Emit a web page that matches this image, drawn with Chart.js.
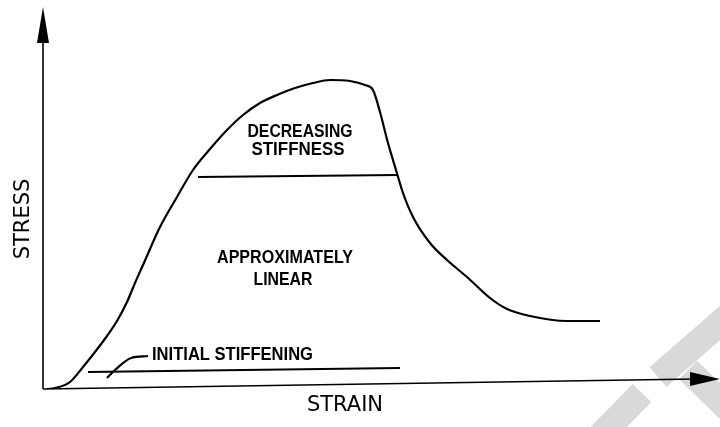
<!DOCTYPE html>
<html>
<head>
<meta charset="utf-8">
<script src="https://cdn.jsdelivr.net/npm/chart.js@4"></script>
<style>
  body { margin: 0; background: #fff; }
  #wrap { width: 720px; height: 427px; position: relative; }
</style>
</head>
<body>
<div id="wrap"><canvas id="stressChart"></canvas></div>
<script>
// schematic stress-strain curve, arbitrary units (no ticks on either axis)
const strain = [4, 12, 27, 40, 52, 64, 74, 84, 92, 100, 117, 134, 150, 167, 184, 200, 217, 234, 252, 270, 287, 307, 322, 330,
  337, 345, 353, 360, 370, 387, 404, 424, 447, 464, 487, 524, 557];
const stress = [0, 1, 7, 22, 37, 53, 68, 87, 106, 124, 162, 192, 219, 240, 259, 274, 286, 294, 301, 306, 309, 308, 304, 299,
  277, 246, 219, 196, 172, 146, 129, 112, 91, 80, 73, 68, 68];

// region boundaries
const initialLineX = [45, 357];
const initialLineY = [17, 21];
const decreasingLineX = [155, 355];
const decreasingLineY = [212, 214];
const leaderX = [64, 72, 88, 105];
const leaderY = [11, 19, 31, 33];

const xMax = 677;
const yMax = 382;

// region labels: text, x, y, width, align
const regionLabels = [
  ["DECREASING", 257, 257, 105, "center"],
  ["STIFFNESS", 255, 239, 93, "center"],
  ["APPROXIMATELY", 242, 131, 136, "center"],
  ["LINEAR", 240, 109, 59, "center"],
  ["INITIAL STIFFENING", 109, 34, 161, "left"],
];
const xTitle = "STRAIN";
const yTitle = "STRESS";

const pts = (xs, ys) => xs.map((x, i) => ({ x: x, y: ys[i] }));

const lineStyle = { showLine: true, pointRadius: 0, borderColor: "#000", fill: false };

const schematic = {
  id: "schematic",
  beforeDatasetsDraw(chart) {
    const ctx = chart.ctx;
    // grey watermark in the corner
    ctx.save();
    ctx.strokeStyle = "#d9d9d9";
    ctx.lineWidth = 26;
    ctx.lineCap = "butt";
    ctx.beginPath(); ctx.moveTo(728, 316); ctx.lineTo(658, 377); ctx.stroke();
    ctx.beginPath(); ctx.moveTo(688, 370); ctx.lineTo(745, 425); ctx.stroke();
    ctx.beginPath(); ctx.moveTo(642, 393); ctx.lineTo(598, 438); ctx.stroke();
    ctx.restore();
  },
  afterDatasetsDraw(chart) {
    const ctx = chart.ctx;
    const a = chart.chartArea;
    const xs = chart.scales.x, ys = chart.scales.y;
    ctx.save();
    ctx.strokeStyle = "#000";
    ctx.fillStyle = "#000";
    ctx.lineWidth = 1.6;
    // y axis with arrow
    ctx.beginPath(); ctx.moveTo(a.left, a.bottom); ctx.lineTo(a.left, a.top + 30); ctx.stroke();
    ctx.beginPath();
    ctx.moveTo(a.left, a.top);
    ctx.lineTo(a.left + 6, a.top + 36);
    ctx.lineTo(a.left - 6, a.top + 36);
    ctx.closePath(); ctx.fill();
    // x axis with arrow (scan is slightly tilted)
    const endY = a.bottom - 10;
    ctx.beginPath(); ctx.moveTo(a.left, a.bottom); ctx.lineTo(a.right - 25, endY); ctx.stroke();
    ctx.beginPath();
    ctx.moveTo(a.right, endY);
    ctx.lineTo(a.right - 30, endY - 7);
    ctx.lineTo(a.right - 30, endY + 7);
    ctx.closePath(); ctx.fill();

    // region labels
    ctx.font = "bold 18px 'Liberation Sans', Arial, sans-serif";
    ctx.textBaseline = "middle";
    regionLabels.forEach(([t, x, y, w, al]) => {
      ctx.textAlign = al;
      ctx.fillText(t, xs.getPixelForValue(x), ys.getPixelForValue(y), w);
    });

    // axis titles
    ctx.font = "21px 'DejaVu Sans', sans-serif";
    ctx.textAlign = "center";
    ctx.fillText(xTitle, 345, 406, 86);
    ctx.translate(24, 219);
    ctx.rotate(-Math.PI / 2);
    ctx.fillText(yTitle, 0, 0, 84);
    ctx.restore();
  }
};

new Chart(document.getElementById("stressChart"), {
  type: "scatter",
  data: {
    datasets: [
      { ...lineStyle, data: pts(strain, stress), borderWidth: 2.2, cubicInterpolationMode: "monotone" },
      { ...lineStyle, data: pts(initialLineX, initialLineY), borderWidth: 1.8 },
      { ...lineStyle, data: pts(decreasingLineX, decreasingLineY), borderWidth: 1.8 },
      { ...lineStyle, data: pts(leaderX, leaderY), borderWidth: 2.2, cubicInterpolationMode: "monotone" },
    ],
  },
  options: {
    responsive: true,
    maintainAspectRatio: false,
    animation: false,
    layout: { padding: { left: 43, right: 0, top: 7, bottom: 38 } },
    plugins: { legend: { display: false }, tooltip: { enabled: false } },
    scales: {
      x: { type: "linear", min: 0, max: xMax, display: false },
      y: { type: "linear", min: 0, max: yMax, display: false },
    },
  },
  plugins: [schematic],
});
</script>
</body>
</html>
